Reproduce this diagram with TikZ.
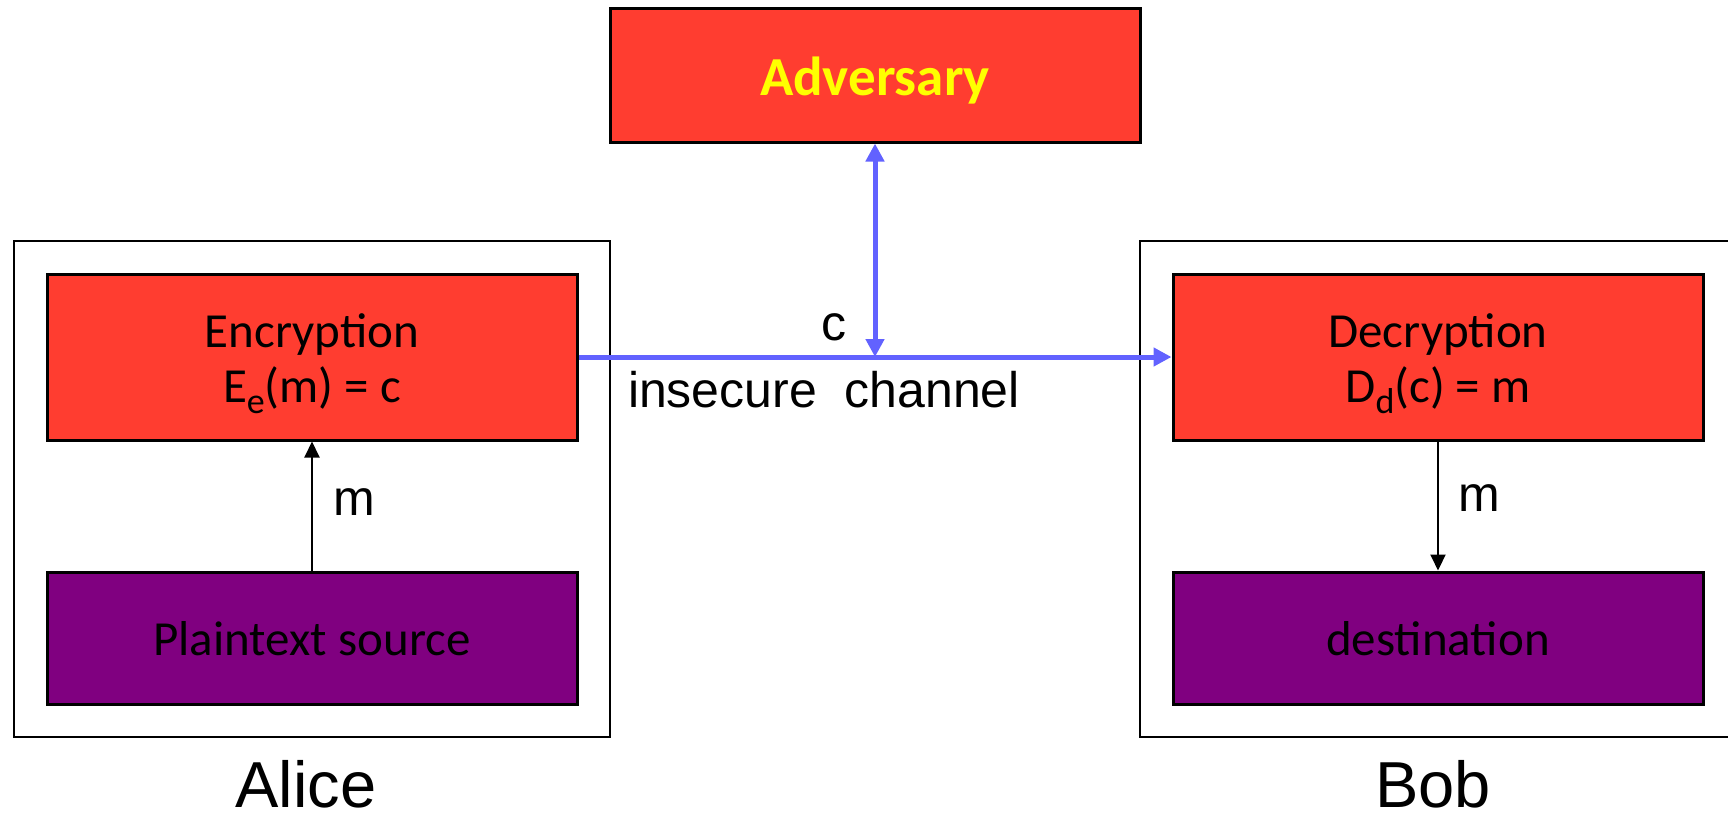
\documentclass[tikz,border=0pt]{standalone}
\usepackage{fontspec}
\setmainfont{Carlito}
\newfontfamily\labelfont{Liberation Sans}
\usetikzlibrary{arrows.meta}

\definecolor{boxred}{RGB}{255,61,48}
\definecolor{boxpurple}{RGB}{128,0,128}
\definecolor{chanblue}{RGB}{98,98,255}
\definecolor{advyellow}{RGB}{255,255,0}

\tikzset{
  party/.style={draw=black, line width=2.5pt, rectangle, inner sep=0pt},
  stage/.style={draw=black, line width=3pt, rectangle, inner sep=0pt,
    minimum width=530pt},
  redbox/.style={stage, fill=boxred, minimum height=166pt},
  purplebox/.style={stage, fill=boxpurple, minimum height=132pt},
  boxtext/.style={anchor=base, inner sep=0pt,
    font=\fontsize{49}{53}\selectfont},
  advtext/.style={anchor=base, inner sep=0pt, text=advyellow,
    font=\bfseries\fontsize{55}{60}\selectfont},
  channel/.style={draw=chanblue, line width=5pt,
    -{Triangle[length=18pt,width=18pt]}},
  flow/.style={draw=black, line width=2pt,
    -{Triangle[length=16pt,width=15pt]}},
  tag/.style={font=\labelfont\fontsize{50}{60}\selectfont, inner sep=0pt},
  who/.style={font=\labelfont\fontsize{65}{70}\selectfont, inner sep=0pt}
}
\newcommand{\lowsub}[1]{\raisebox{-11pt}{\fontsize{36}{36}\selectfont #1}}

\begin{document}
\begin{tikzpicture}[x=1pt, y=-1pt]
\useasboundingbox (0,0) rectangle (1728,816);

% the two parties
\node[party, minimum width=596pt, minimum height=496pt] (alice) at (312,489) {};
\node[party, minimum width=620pt, minimum height=496pt] (bob) at (1450,489) {};

% adversary
\node[stage, fill=boxred, minimum height=133pt] (adv) at (875,75.5) {};
\node[advtext] (advt) at (875,95) {Adversary};

% Alice's side
\node[redbox] (enc) at (312,357) {};
\node[boxtext] (enct1) at (312,347) {Encryption};
\node[boxtext] (enct2) at (312,402) {E\lowsub{e}(m) = c};
\node[purplebox] (src) at (312,638) {};
\node[boxtext] (srct) at (312,655) {Plaintext source};

% Bob's side
\node[redbox] (dec) at (1438,357) {};
\node[boxtext] (dect1) at (1438,347) {Decryption};
\node[boxtext] (dect2) at (1438,402) {D\lowsub{d}(c) = m};
\node[purplebox] (dst) at (1438,638) {};
\node[boxtext] (dstt) at (1438,655) {destination};

% insecure channel and the tap
\coordinate (tap) at (enc.east -| adv.south);
\draw[channel] (enc.east) -- (dec.west);
\draw[channel, {Triangle[length=18pt,width=18pt]}-{Triangle[length=18pt,width=18pt]}] (tap) -- (adv.south);

% message flows
\draw[flow] (src.north) -- (enc.south);
\draw[flow] (dec.south) -- (dst.north);

% labels
\node[tag] (lc) at (834,327) {c};
\node[tag] (lchan) at (824,390) {insecure\ \ channel};
\node[tag] (lm1) at (354,502) {m};
\node[tag] (lm2) at (1479,498) {m};
\node[who] (lalice) at (306,784) {Alice};
\node[who] (lbob) at (1433,784) {Bob};
\end{tikzpicture}
\end{document}
